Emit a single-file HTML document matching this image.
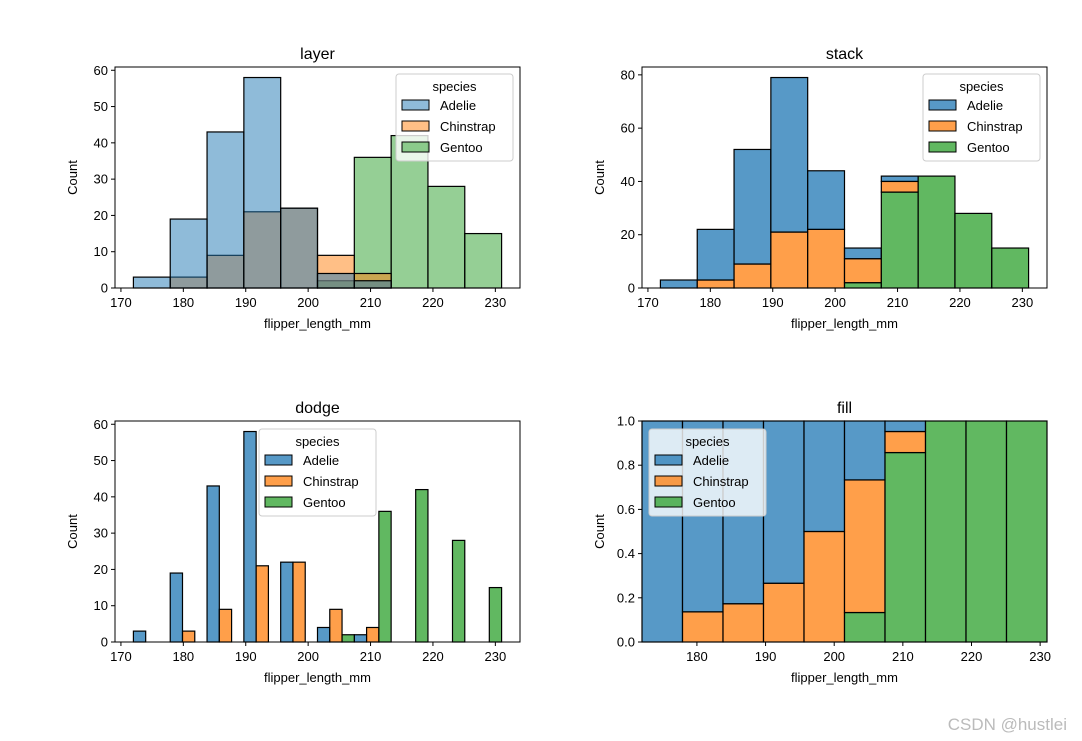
<!DOCTYPE html>
<html><head><meta charset="utf-8"><style>
body{margin:0;background:#fff;}
svg{display:block;font-family:"Liberation Sans","DejaVu Sans",sans-serif;}
</style></head><body>
<svg id="fig" width="1082" height="741">
<text x="1067" y="730" text-anchor="end" font-size="17" fill="#bbb">CSDN @hustlei</text>
</svg>
<script>
const binEdges=[172,177.9,183.8,189.7,195.6,201.5,207.4,213.3,219.2,225.1,231];
const species=["Adelie","Chinstrap","Gentoo"];
const adelie=[3,19,43,58,22,4,2,0,0,0];
const chinstrap=[0,3,9,21,22,9,4,0,0,0];
const gentoo=[0,0,0,0,0,2,36,42,28,15];
const xTicks=[170,180,190,200,210,220,230];
const yTicksCount=[0,10,20,30,40,50,60];
const yTicksStack=[0,20,40,60,80];
const yTicksFill=[0,0.2,0.4,0.6,0.8,1.0];

const NS="http://www.w3.org/2000/svg";
const fig=document.getElementById('fig');
const series=[adelie,chinstrap,gentoo];
const colors=["#1f77b4","#ff7f0e","#2ca02c"];
function mk(tag,attrs,parent){const e=document.createElementNS(NS,tag);for(const k in attrs)e.setAttribute(k,attrs[k]);(parent||fig).appendChild(e);return e;}

function panel(o){
  const g=mk('g',{});
  
  
  const {L,T,W,H,x0,x1,y1}=o;
  const sx=v=>L+(v-x0)/(x1-x0)*W, sy=v=>T+H-v/y1*H;
  const bars=mk('g',{},g);
  const barDraw=(a,b,lo,hi,c,op,nm)=>{
    if(hi-lo<=0)return;
    const r=mk('rect',{x:sx(a),y:sy(hi),width:sx(b)-sx(a),height:sy(lo)-sy(hi),fill:c,'fill-opacity':op,stroke:'#000','stroke-width':1.2},bars);
    
    
  };
  const nb=binEdges.length-1;
  if(o.mode==='layer'){
    for(const s of [2,1,0])for(let i=0;i<nb;i++)barDraw(binEdges[i],binEdges[i+1],0,series[s][i],colors[s],0.5,'bar-'+species[s].toLowerCase()+'-'+i);
  }else if(o.mode==='dodge'){
    for(let s=0;s<3;s++)for(let i=0;i<nb;i++){const w=(binEdges[i+1]-binEdges[i])/3;barDraw(binEdges[i]+s*w,binEdges[i]+(s+1)*w,0,series[s][i],colors[s],0.75,'bar-'+species[s].toLowerCase()+'-'+i);}
  }else{
    for(let i=0;i<nb;i++){
      const tot=adelie[i]+chinstrap[i]+gentoo[i];let base=0;
      for(const s of [2,1,0]){let v=series[s][i];if(o.mode==='fill')v=tot?v/tot:0;barDraw(binEdges[i],binEdges[i+1],base,base+v,colors[s],0.75,'bar-'+species[s].toLowerCase()+'-'+i);base+=v;}
    }
  }
  mk('rect',{x:L,y:T,width:W,height:H,fill:'none',stroke:'#000','stroke-width':1},g);
  xTicks.forEach(t=>{if(t<x0||t>x1)return;const x=sx(t);mk('line',{x1:x,x2:x,y1:T+H,y2:T+H+4,stroke:'#000'},g);const tx=mk('text',{x:x,y:T+H+19,'text-anchor':'middle','font-size':13},g);tx.textContent=t;});
  o.yt.forEach(t=>{const y=sy(t);mk('line',{x1:L-4,x2:L,y1:y,y2:y,stroke:'#000'},g);const tx=mk('text',{x:L-7,y:y+4.5,'text-anchor':'end','font-size':13},g);tx.textContent=o.mode==='fill'?t.toFixed(1):t;});
  const xl=mk('text',{x:L+W/2,y:T+H+40,'text-anchor':'middle','font-size':13},g);xl.textContent='flipper_length_mm';
  
  const yl=mk('text',{x:0,y:0,'text-anchor':'middle','font-size':13,transform:`translate(${L-38},${T+H/2}) rotate(-90)`},g);yl.textContent='Count';
  
  const ti=mk('text',{x:L+W/2,y:T-8,'text-anchor':'middle','font-size':16},g);ti.textContent=o.name;
  
  const lg=mk('g',{},g);
  
  mk('rect',{x:o.lx,y:o.ly,width:117,height:87,rx:3,fill:'#fff','fill-opacity':0.8,stroke:'#ccc'},lg);
  const lt=mk('text',{x:o.lx+58.5,y:o.ly+17,'text-anchor':'middle','font-size':13},lg);lt.textContent='species';
  species.forEach((s,k)=>{const y=o.ly+26+k*21;
    const e=mk('g',{},lg);
    mk('rect',{x:o.lx+6,y:y,width:27,height:10,fill:colors[k],'fill-opacity':o.mode==='layer'?0.5:0.75,stroke:'#000'},e);
    const t=mk('text',{x:o.lx+44,y:y+10,'font-size':13},e);t.textContent=s;});
}
panel({name:'layer',mode:'layer',L:115,T:67,W:405,H:221,x0:169.05,x1:233.95,y1:60.9,yt:yTicksCount,lx:396,ly:74});
panel({name:'stack',mode:'stack',L:642,T:67,W:405,H:221,x0:169.05,x1:233.95,y1:82.95,yt:yTicksStack,lx:923,ly:74});
panel({name:'dodge',mode:'dodge',L:115,T:421,W:405,H:221,x0:169.05,x1:233.95,y1:60.9,yt:yTicksCount,lx:259,ly:429});
panel({name:'fill',mode:'fill',L:642,T:421,W:405,H:221,x0:172,x1:231,y1:1,yt:yTicksFill,lx:649,ly:429});
</script>
</body></html>
